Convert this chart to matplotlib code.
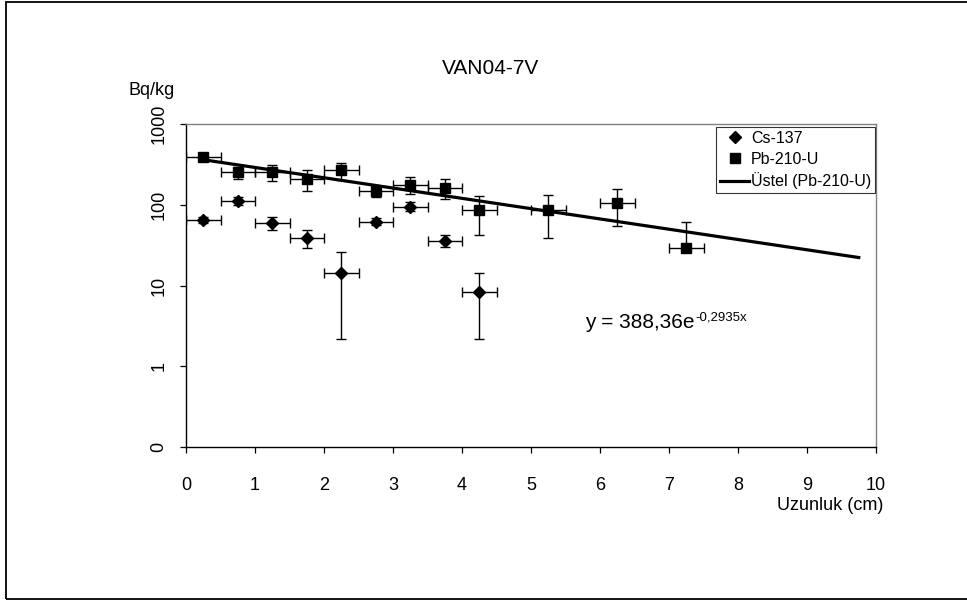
import matplotlib
matplotlib.use('Agg')
import matplotlib.pyplot as plt
import numpy as np

plt.rcParams['font.family'] = ['Liberation Sans', 'DejaVu Sans']

# depth (cm) and activity (Bq/kg) with their uncertainties
cs_depth = [0.25, 0.75, 1.25, 1.75, 2.25, 2.75, 3.25, 3.75, 4.25]
cs_value = [65, 112, 59, 39, 14.2, 62, 95, 36, 8.3]
cs_err = [6, 12, 11, 10, 12, 6, 12, 6, 6.1]

pb_depth = [0.25, 0.75, 1.25, 1.75, 2.25, 2.75, 3.25, 3.75, 4.25, 5.25, 6.25, 7.25]
pb_value = [390, 252, 252, 207, 267, 149, 177, 163, 86, 86, 106, 29]
pb_err = [20, 44, 56, 60, 66, 24, 41, 46, 44, 47, 51, 33]

depth_err = 0.25

# exponential trend fitted to Pb-210-U
fit_a = 388.36
fit_b = -0.2935
fit_range = (0.25, 9.75)

y_ticks = [0.1, 1, 10, 100, 1000]
y_ticklabels = ['0', '1', '10', '100', '1000']

W, H = 967, 600
fig = plt.figure(figsize=(W / 100, H / 100), dpi=100)
ax = fig.add_axes([186 / W, 1 - 447 / H, 690 / W, 323 / H])


def lower_err(vals, errs):
    # nothing below zero on a log axis
    vals = np.array(vals, dtype=float)
    errs = np.array(errs, dtype=float)
    return np.where(errs < vals, errs, 0.0)


ax.errorbar(cs_depth, cs_value, xerr=depth_err,
            yerr=[lower_err(cs_value, cs_err), cs_err],
            fmt='none', ecolor='black', elinewidth=1, capsize=3.5, capthick=1)
ax.errorbar(pb_depth, pb_value, xerr=depth_err,
            yerr=[lower_err(pb_value, pb_err), pb_err],
            fmt='none', ecolor='black', elinewidth=1, capsize=3.5, capthick=1)

ax.plot(cs_depth, cs_value, 'D', color='black', ms=6, ls='none', label='Cs-137')
ax.plot(pb_depth, pb_value, 's', color='black', ms=6.7, ls='none', label='Pb-210-U')

xs = np.linspace(fit_range[0], fit_range[1], 100)
ax.plot(xs, fit_a * np.exp(fit_b * xs), '-', color='black', lw=2.3,
        label='Üstel (Pb-210-U)')

ax.set_yscale('log')
ax.set_ylim(0.1, 1000)
ax.set_xlim(0, 10)
ax.set_yticks(y_ticks)
ax.set_yticklabels(y_ticklabels, rotation=90, va='center')
ax.yaxis.set_minor_locator(matplotlib.ticker.NullLocator())
ax.set_xticks(np.arange(0, 11))
ax.tick_params(axis='both', direction='out', length=4.5, width=0.9,
               labelsize=13, color='black')
ax.tick_params(axis='y', pad=9)
ax.tick_params(axis='x', pad=17)

for side in ['left', 'bottom']:
    ax.spines[side].set_color('black')
    ax.spines[side].set_linewidth(1)
for side in ['top', 'right']:
    ax.spines[side].set_color('#808080')
    ax.spines[side].set_linewidth(1)

leg = ax.legend(loc='upper right', bbox_to_anchor=(875 / W, 1 - 127 / H),
                bbox_transform=fig.transFigure, fontsize=11.5, frameon=True,
                fancybox=False, edgecolor='black', handlelength=1.8,
                handletextpad=0.1, borderpad=0.25, labelspacing=0.35,
                borderaxespad=0)
leg.get_frame().set_linewidth(0.8)

fig.text(490.5 / W, 1 - 69 / H, 'VAN04-7V', fontsize=15,
         ha='center', va='center')
fig.text(151.5 / W, 1 - 91 / H, 'Bq/kg', fontsize=13, ha='center', va='center')
fig.text(883 / W, 1 - 505 / H, 'Uzunluk (cm)', fontsize=13,
         ha='right', va='center')

# trend equation, exponent set as a raised text right after the base
base = fig.text(585 / W, 1 - 328 / H, 'y = %se' % str(fit_a).replace('.', ','),
                fontsize=15, ha='left', va='baseline')
ax.annotate('%sx' % str(fit_b).replace('.', ','), xy=(1, 0), xycoords=base,
            xytext=(0.5, 11), textcoords='offset pixels', fontsize=9.5,
            ha='left', va='baseline')

# outer chart frame
fig.add_artist(plt.Rectangle((6 / W, 1 / H), 1.0, 597 / H,
                             transform=fig.transFigure, fill=False,
                             lw=1.3, ec='black'))

fig.savefig('out.png', dpi=100)
